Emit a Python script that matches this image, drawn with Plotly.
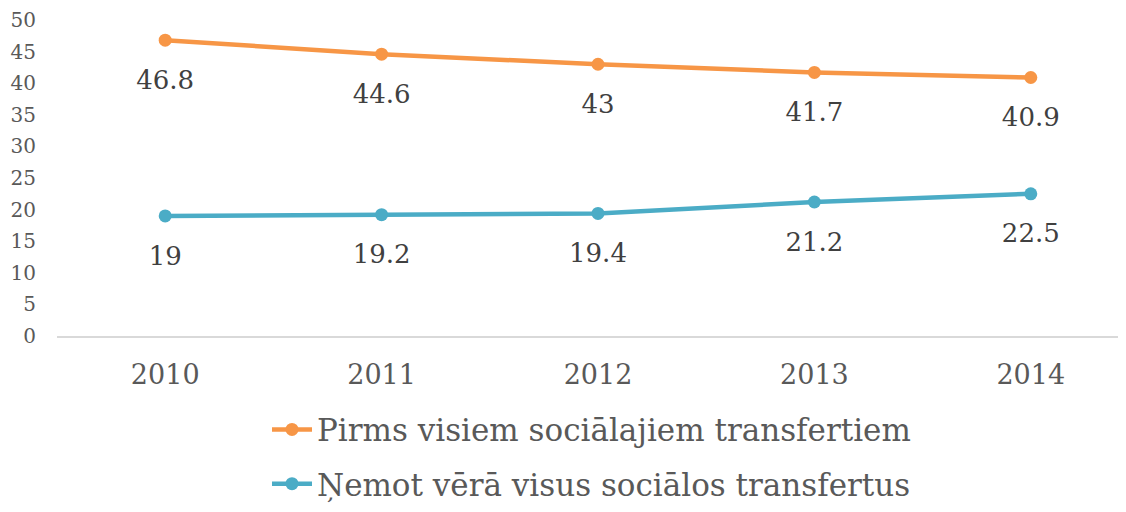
import plotly.graph_objects as go

years = ["2010", "2011", "2012", "2013", "2014"]
before = [46.8, 44.6, 43, 41.7, 40.9]
after = [19, 19.2, 19.4, 21.2, 22.5]
names = ["Pirms visiem sociālajiem transfertiem", "Ņemot vērā visus sociālos transfertus"]
colors = ["#F79646", "#4BACC6"]
yticks = list(range(0, 51, 5))

FONT = "DejaVu Serif"

fig = go.Figure()
for i, (vals, name, col) in enumerate(zip([before, after], names, colors)):
    fig.add_trace(go.Scatter(
        x=years, y=vals, name=name, mode="lines+markers",
        line=dict(color=col, width=4.5),
        marker=dict(color=col, size=13),
        legendgroup=f"g{i}",
    ))
for vals in [before, after]:
    fig.add_trace(go.Scatter(
        x=years, y=vals, mode="markers+text", showlegend=False, hoverinfo="skip",
        marker=dict(size=45, color="rgba(0,0,0,0)"),
        text=[f"{v:g}" for v in vals], textposition="bottom center",
        textfont=dict(family=FONT, size=26, color="#404040"),
    ))

fig.update_layout(
    width=1118, height=504,
    margin=dict(l=49, r=0, t=10, b=176),
    plot_bgcolor="white", paper_bgcolor="white",
    showlegend=True,
    legend=dict(orientation="v", x=0.5, xanchor="center", y=-0.553, yanchor="bottom",
                font=dict(family=FONT, size=31, color="#595959"),
                tracegroupgap=11, itemwidth=40),
    font=dict(family=FONT),
)
fig.update_xaxes(type="category", range=[-0.5, 4.44], showgrid=False,
                 showline=True, linecolor="#D9D9D9", linewidth=1.5,
                 ticks="", ticklabelstandoff=14,
                 tickfont=dict(family=FONT, size=27, color="#595959"))
fig.update_yaxes(range=[0, 50], tickvals=yticks, showgrid=False, zeroline=False,
                 showline=False, ticks="", ticklabelstandoff=20, ticklabeloverflow="allow",
                 tickfont=dict(family=FONT, size=20, color="#595959"))

fig.write_html("out.html")
